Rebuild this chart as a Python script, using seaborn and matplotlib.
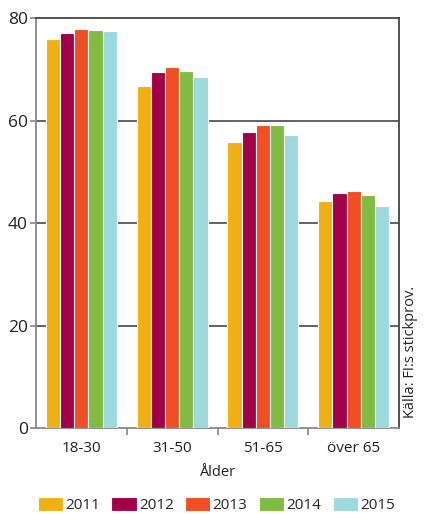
import matplotlib
matplotlib.use("Agg")
import matplotlib.pyplot as plt
import seaborn as sns
import pandas as pd
from matplotlib.ticker import FixedLocator

age_groups = ["18-30", "31-50", "51-65", "över 65"]
years = ["2011", "2012", "2013", "2014", "2015"]
values_2011 = [75.9, 66.7, 55.8, 44.3]
values_2012 = [77.0, 69.5, 57.7, 45.8]
values_2013 = [77.9, 70.4, 59.2, 46.2]
values_2014 = [77.6, 69.7, 59.2, 45.4]
values_2015 = [77.5, 68.4, 57.1, 43.3]
colors = ["#F0B013", "#A3004A", "#F04E23", "#7FBC41", "#9DD9DC"]

series = [values_2011, values_2012, values_2013, values_2014, values_2015]
df = pd.DataFrame(
    [(g, y, v) for y, vals in zip(years, series) for g, v in zip(age_groups, vals)],
    columns=["Ålder", "År", "Andel"],
)

sns.set_theme(style="white")
plt.rcParams["font.family"] = ["Open Sans", "DejaVu Sans"]

fig = plt.figure(figsize=(4.24, 5.14), dpi=100)
ax = fig.add_axes([0.085, 0.167, 0.856, 0.798])

sns.barplot(
    data=df, x="Ålder", y="Andel", hue="År", palette=colors,
    order=age_groups, hue_order=years, width=0.78, saturation=1,
    edgecolor="white", linewidth=0.8, ax=ax, legend=True, zorder=3,
)

ax.set_ylim(0, 80)
ax.set_xlim(-0.5, 3.5)
ax.set_yticks([0, 20, 40, 60, 80])
for yv in [20, 40, 60]:
    ax.axhline(yv, color="#555555", lw=1.3, zorder=1)

for side in ["top", "right"]:
    ax.spines[side].set_visible(True)
    ax.spines[side].set_color("#444444")
    ax.spines[side].set_linewidth(1.3)
for side in ["left", "bottom"]:
    ax.spines[side].set_color("#888888")
    ax.spines[side].set_linewidth(1.3)

ax.tick_params(axis="y", which="major", left=True, length=4, width=1.2,
               color="#888888", labelsize=12.5, labelcolor="#222222", pad=2)
ax.tick_params(axis="x", which="major", bottom=False, labelsize=11,
               labelcolor="#222222", pad=3)
ax.xaxis.set_minor_locator(FixedLocator([0.5, 1.5, 2.5]))
ax.tick_params(axis="x", which="minor", bottom=True, length=5, width=1.2,
               color="#888888")

ax.set_xlabel("Ålder", fontsize=10.5, color="#222222", labelpad=7)
ax.set_ylabel("")

handles, labels = ax.get_legend_handles_labels()
ax.get_legend().remove()
fig.legend(handles, labels, loc="lower center", bbox_to_anchor=(0.51, -0.025),
           ncol=5, frameon=False, fontsize=11, handlelength=1.65,
           handleheight=1.05, handletextpad=0.15, columnspacing=0.75)

fig.text(0.968, 0.315, "Källa: FI:s stickprov.", rotation=90, ha="center",
         va="center", fontsize=10.5, color="#222222")

fig.savefig("out.png", dpi=100)
